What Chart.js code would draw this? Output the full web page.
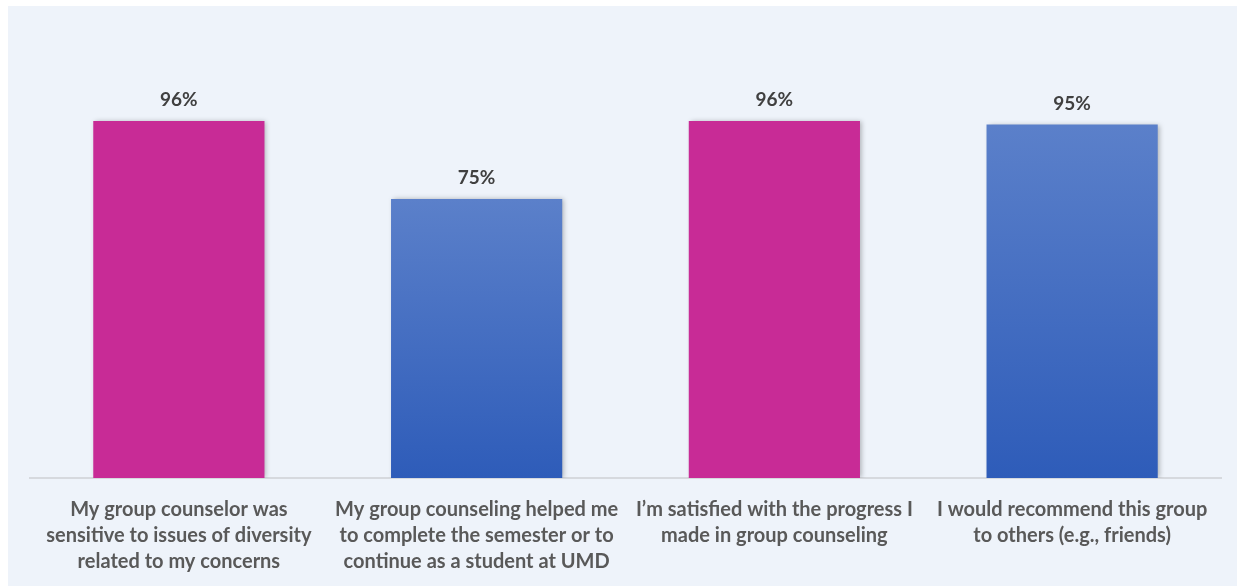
<!DOCTYPE html>
<html>
<head>
<meta charset="utf-8">
<script src="https://cdn.jsdelivr.net/npm/chart.js@4.4.0/dist/chart.umd.min.js"></script>
<style>
  html, body { margin: 0; padding: 0; background: #fff; }
  #wrap { position: absolute; left: 0; top: 0; width: 1237px; height: 586px; }
</style>
</head>
<body>
<div id="wrap"><canvas id="surveyChart" width="1237" height="586"></canvas></div>
<script>
// Data
const categories = [
    ['My group counselor was', 'sensitive to issues of diversity', 'related to my concerns'],
    ['My group counseling helped me', 'to complete the semester or to', 'continue as a student at UMD'],
    ['I’m satisfied with the progress I', 'made in group counseling'],
    ['I would recommend this group', 'to others (e.g., friends)']
];
const percentValues = [96, 75, 96, 95];
const barKinds = ['pink', 'blue', 'pink', 'blue'];

const PINK = '#C82B96';
const BLUE_TOP = '#5B80CA';
const BLUE_BOTTOM = '#2E5CB9';

function barFill(ctx) {
    const chart = ctx.chart;
    const i = ctx.dataIndex;
    if (barKinds[i] === 'pink') return PINK;
    const y = chart.scales && chart.scales.y;
    if (!chart.chartArea || !y) return BLUE_BOTTOM;
    const top = y.getPixelForValue(percentValues[i]);
    const bottom = y.getPixelForValue(0);
    const g = chart.ctx.createLinearGradient(0, top, 0, bottom);
    g.addColorStop(0, BLUE_TOP);
    g.addColorStop(1, BLUE_BOTTOM);
    return g;
}

// page background panel
const panelBg = {
    id: 'panelBg',
    beforeDraw(chart) {
        const c = chart.ctx;
        c.save();
        c.fillStyle = '#EEF3FA';
        c.fillRect(8, 6, chart.width - 8, chart.height - 6);
        c.restore();
    }
};

// soft shadow under the bars
const barShadow = {
    id: 'barShadow',
    beforeDatasetDraw(chart) {
        const c = chart.ctx;
        c.save();
        c.shadowColor = 'rgba(0,0,0,0.28)';
        c.shadowBlur = 5;
        c.shadowOffsetX = 2;
        c.shadowOffsetY = 0;
    },
    afterDatasetDraw(chart) {
        chart.ctx.restore();
    }
};

// percentage labels above bars
const valueLabels = {
    id: 'valueLabels',
    afterDatasetsDraw(chart) {
        const c = chart.ctx;
        const meta = chart.getDatasetMeta(0);
        c.save();
        c.font = 'bold 19px Lato, "Open Sans", sans-serif';
        c.fillStyle = '#404040';
        c.textAlign = 'center';
        c.textBaseline = 'middle';
        meta.data.forEach((bar, i) => {
            c.fillText(percentValues[i] + '%', bar.x, bar.y - 21);
        });
        c.restore();
    }
};

new Chart(document.getElementById('surveyChart'), {
    type: 'bar',
    data: {
        labels: categories,
        datasets: [{
            data: percentValues,
            backgroundColor: barFill,
            borderWidth: 0,
            categoryPercentage: 0.575,
            barPercentage: 1.0
        }]
    },
    options: {
        responsive: false,
        animation: false,
        events: [],
        layout: { padding: { left: 30, right: 16, top: 106, bottom: 0 } },
        plugins: {
            legend: { display: false },
            tooltip: { enabled: false }
        },
        scales: {
            x: {
                grid: { display: false },
                border: { display: true, color: '#D6D9DE', width: 2 },
                ticks: {
                    color: '#595959',
                    font: { family: 'Lato, "Open Sans", sans-serif', size: 20, weight: 'bold', lineHeight: 1.3 },
                    padding: 11,
                    maxRotation: 0,
                    autoSkip: false
                }
            },
            y: {
                display: false,
                min: 0,
                max: 100
            }
        }
    },
    plugins: [panelBg, barShadow, valueLabels]
});
</script>
</body>
</html>
